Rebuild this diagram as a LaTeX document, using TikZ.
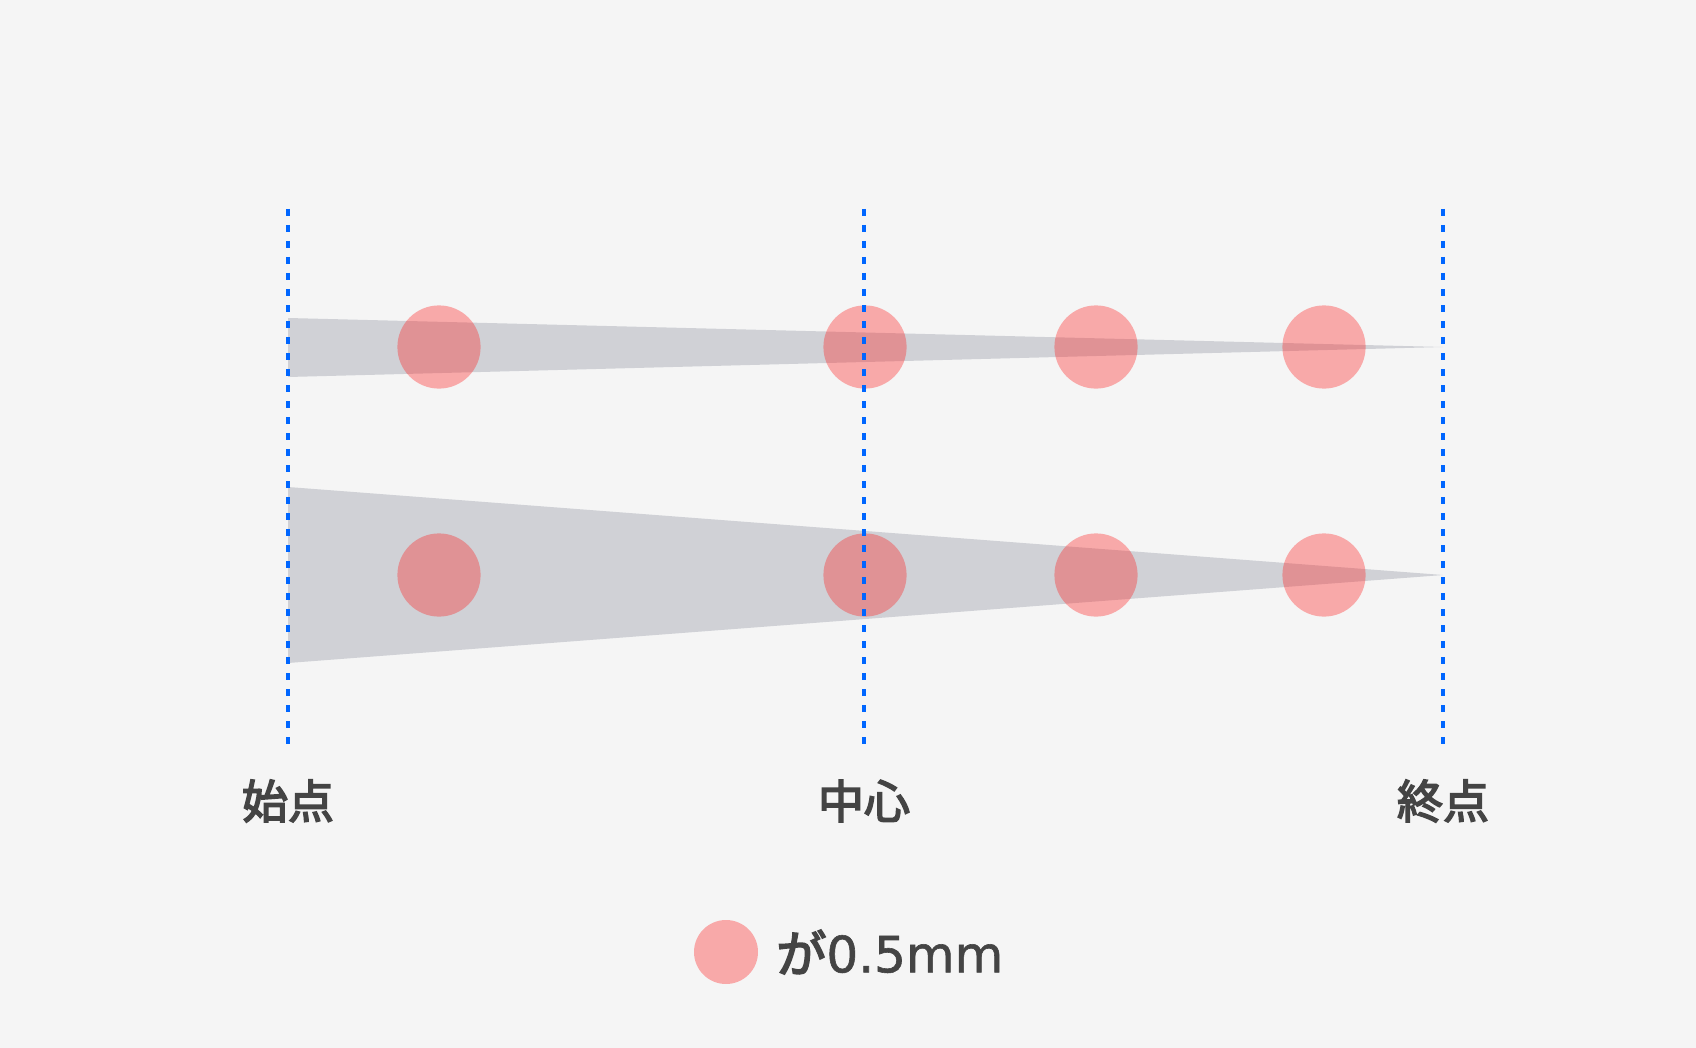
\documentclass[tikz,border=0pt]{standalone}
\usepackage{fontspec}
\setmainfont{Noto Sans CJK JP}
\newfontfamily\labfont[FakeBold=3.5]{Noto Sans CJK JP}
\newfontfamily\numfont[FakeBold=1.2]{DejaVu Sans}
\definecolor{bgc}{HTML}{F5F5F5}
\definecolor{guide}{HTML}{0066FF}
\definecolor{wedge}{HTML}{D0D1D6}
\definecolor{dot}{HTML}{FF1E1E}
\definecolor{txt}{HTML}{444444}
\tikzset{
  guideline/.style={guide,line width=2.2pt,dash pattern=on 3.7pt off 4.3pt},
  pt/.style={dot,opacity=.35},
  lab/.style={txt,font=\fontsize{23pt}{23pt}\labfont}
}
\begin{document}
\begin{tikzpicture}[x=0.5pt,y=-0.5pt]
\fill[bgc] (0,0) rectangle (1696,1048);
% wedges
\fill[wedge] (288,318)--(1443,347)--(288,377)--cycle;
\fill[wedge] (288,487)--(1443,575)--(288,663)--cycle;
% points
\foreach \x in {439,865,1096,1324}
{\fill[pt] (\x,347) circle[radius=20.8pt];
\fill[pt] (\x,575) circle[radius=20.8pt];}
% guides
\foreach \x in {288,864,1443}
\draw[guideline] (\x,209)--(\x,746);
\node[lab] (start) at (288,801) {始点};
\node[lab] (mid) at (864,801) {中心};
\node[lab] (end) at (1443,801) {終点};
% legend
\fill[pt] (726,952) circle[radius=16pt];
\node[txt,anchor=west,inner sep=0pt,font=\fontsize{25pt}{25pt}\labfont] (note) at (776,952) {が{\numfont 0.5mm}};
\end{tikzpicture}
\end{document}
